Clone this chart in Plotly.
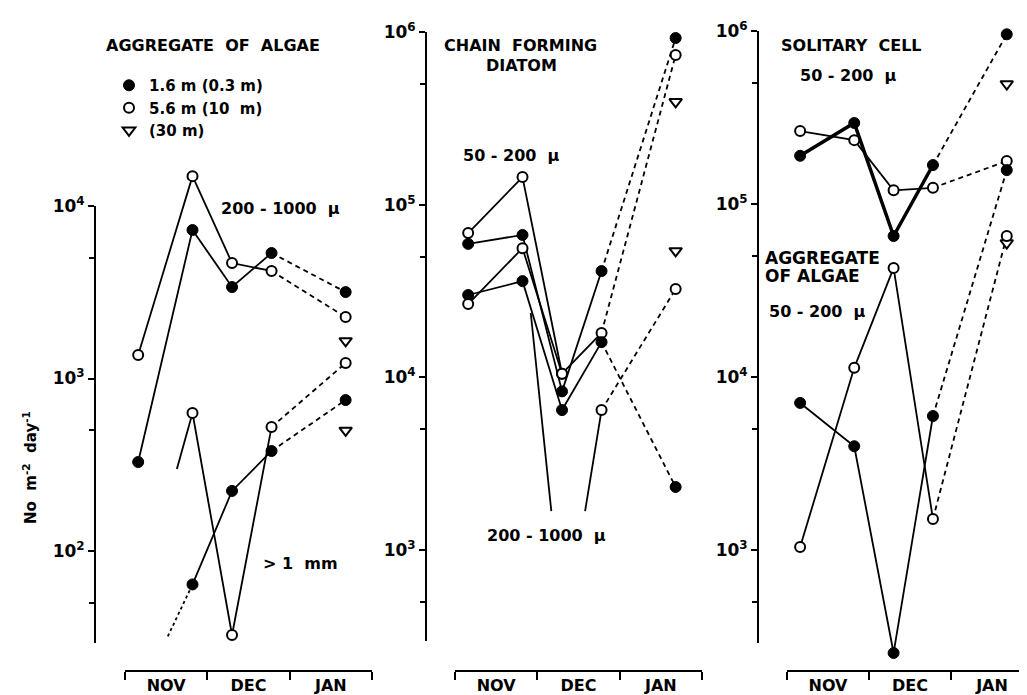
import plotly.graph_objects as go

W, H = 1027, 695

# ---------------- data ----------------
sample_x = [0.16, 0.82, 1.30, 1.78, 2.68]          # sampling dates (month units: NOV=0-1, DEC=1-2, JAN=2-3)
month_labels = ["NOV", "DEC", "JAN"]
month_label_pos = [0.5, 1.5, 2.5]
month_bounds = [0, 1, 2, 3]

# Panel 1 : aggregate of algae
p1_mid_filled = [328, 7260, 3390, 5340, 3170]        # 200-1000 u, 1.6 m
p1_mid_open = [1370, 14900, 4670, 4200, 2270]        # 200-1000 u, 5.6 m
p1_mid_tri = [None, None, None, None, 1650]          # 200-1000 u, 30 m
p1_big_filled = [None, 64, 223, 380, 750]            # >1 mm, 1.6 m
p1_big_open = [None, 631, 32.6, 523, 1230]           # >1 mm, 5.6 m
p1_big_tri = [None, None, None, None, 500]           # >1 mm, 30 m
p1_big_filled_stub = (0.52, 32)                      # dotted lead-in to first point
p1_big_open_stub = (0.63, 299)                       # solid lead-in to first point

# Panel 2 : chain forming diatom
p2_small_filled = [59300, 66800, 8300, 41300, 923000]
p2_small_open = [68500, 144500, 10500, 18100, 736000]
p2_small_tri = [None, None, None, None, 394000]
p2_mid_filled = [30000, 36100, 6470, 16000, 2320]
p2_mid_open = [26600, 56000, 10500, 6470, 32500]
p2_mid_tri = [None, None, None, None, 54000]
p2_lead_a = ([0.92, 1.17], [23600, 1680])            # truncated line toward label
p2_lead_b = ([1.58, 1.78], [1680, 6470])

# Panel 3 : solitary cell / aggregate of algae (50-200 u)
p3_sol_filled = [190000, 294000, 65300, 168000, 957000]
p3_sol_open = [264000, 234000, 120000, 124000, 177000]
p3_sol_tri = [None, None, None, None, 494000]
p3_agg_filled = [7080, 3980, 254, 5950, 157000]
p3_agg_open = [1040, 11300, 42700, 1510, 65300]
p3_agg_tri = [None, None, None, None, 59500]

S, D = "solid", "dash"
std_styles = [S, S, S, D]

# ---------------- layout geometry (pixels) ----------------
panels = [
    dict(xl=117, xr=364, yax=87, ytop=198, ybot=635, top=4, per_dec=172.5, majors=[2, 3, 4]),
    dict(xl=447, xr=694, yax=418, ytop=24, ybot=633, top=6, per_dec=172.7, majors=[3, 4, 5, 6]),
    dict(xl=779, xr=1025, yax=750, ytop=23, ybot=635, top=6, per_dec=173.0, majors=[3, 4, 5, 6]),
]
XAXIS_Y = 663
FONT = "DejaVu Sans"
DASH = {"solid": "solid", "dash": "5px,4px", "dot": "3px,3px"}

fig = go.Figure()
layout = dict(
    width=W, height=H, margin=dict(l=0, r=0, t=0, b=0),
    paper_bgcolor="white", plot_bgcolor="rgba(0,0,0,0)",
    template="none", showlegend=True,
    font=dict(family=FONT, color="black", size=16),
)

for i, p in enumerate(panels):
    dn = 2 * i + 1
    vn = 2 * i + 2
    data_lo = p["top"] - (H - p["ytop"]) / p["per_dec"]
    data_hi = p["top"] + p["ytop"] / p["per_dec"]
    disp_lo = p["top"] - (p["ybot"] - p["ytop"]) / p["per_dec"]
    xdom = [p["xl"] / W, p["xr"] / W]
    sx = "" if dn == 1 else str(dn)
    layout["xaxis" + sx] = dict(domain=xdom, range=[0, 3], visible=False, anchor="y" + sx, fixedrange=True)
    layout["yaxis" + sx] = dict(domain=[0, 1], type="log", range=[data_lo, data_hi], visible=False,
                                anchor="x" + sx, fixedrange=True)
    sv = str(vn)
    layout["xaxis" + sv] = dict(
        domain=xdom, range=[0, 3], anchor="free", position=1 - XAXIS_Y / H,
        showline=True, linewidth=2, linecolor="black", showgrid=False, zeroline=False,
        tickmode="array", tickvals=month_label_pos, ticktext=month_labels,
        ticks="outside", ticklen=0, tickcolor="rgba(0,0,0,0)", ticklabelstandoff=0,
        tickfont=dict(family=FONT, size=16, color="black", weight="bold"),
        minor=dict(tickmode="array", tickvals=month_bounds, ticks="outside", ticklen=8,
                   tickwidth=2, tickcolor="black", showgrid=False),
        fixedrange=True,
    )
    layout["yaxis" + sv] = dict(
        domain=[1 - p["ybot"] / H, 1 - p["ytop"] / H], type="log", range=[disp_lo, p["top"]],
        anchor="free", position=p["yax"] / W, side="left",
        showline=True, linewidth=2, linecolor="black", showgrid=False, zeroline=False,
        tickmode="array", tickvals=[10 ** k for k in p["majors"]],
        ticktext=["10<sup>%d</sup>" % k for k in p["majors"]],
        ticks="outside", ticklen=6, tickwidth=2, tickcolor="black",
        tickfont=dict(family=FONT, size=17, color="black", weight="bold"),
        minor=dict(tickmode="array", tickvals=[5 * 10 ** (k - 1) for k in p["majors"]],
                   ticks="outside", ticklen=5, tickwidth=2, tickcolor="black", showgrid=False),
        fixedrange=True,
    )
    # dummy trace so the display axes form a subplot
    fig.add_trace(go.Scatter(x=[None], y=[None], xaxis="x" + sv, yaxis="y" + sv,
                             showlegend=False, hoverinfo="skip"))

marker_defs = {
    "filled": dict(symbol="circle", size=11, color="black", line=dict(color="black", width=1)),
    "open": dict(symbol="circle", size=10, color="white", line=dict(color="black", width=2)),
    "tri": dict(symbol="triangle-down", size=11, color="white", line=dict(color="black", width=2)),
}

marker_traces = []


def add_lines(ax, vals, styles, width=1.8):
    xa = "x" if ax == 1 else "x%d" % ax
    ya = "y" if ax == 1 else "y%d" % ax
    runs, cur = [], None
    for k in range(len(vals) - 1):
        st = styles[k] if k < len(styles) else None
        if st is None or vals[k] is None or vals[k + 1] is None:
            cur = None
            continue
        if cur is not None and cur["style"] == st:
            cur["x"].append(sample_x[k + 1]); cur["y"].append(vals[k + 1])
        else:
            cur = dict(style=st, x=[sample_x[k], sample_x[k + 1]], y=[vals[k], vals[k + 1]])
            runs.append(cur)
    for r in runs:
        fig.add_trace(go.Scatter(x=r["x"], y=r["y"], mode="lines",
                                 line=dict(color="black", width=width, dash=DASH[r["style"]]),
                                 xaxis=xa, yaxis=ya, showlegend=False, hoverinfo="skip"))


def add_stub(ax, xs, ys, style, width=1.8):
    xa = "x" if ax == 1 else "x%d" % ax
    ya = "y" if ax == 1 else "y%d" % ax
    fig.add_trace(go.Scatter(x=xs, y=ys, mode="lines",
                             line=dict(color="black", width=width, dash=DASH[style]),
                             xaxis=xa, yaxis=ya, showlegend=False, hoverinfo="skip"))


def add_markers(ax, vals, kind, name=None, legend=False, size=None):
    xa = "x" if ax == 1 else "x%d" % ax
    ya = "y" if ax == 1 else "y%d" % ax
    xs = [x for x, v in zip(sample_x, vals) if v is not None]
    ys = [v for v in vals if v is not None]
    m = dict(marker_defs[kind])
    if size:
        m["size"] = size
    marker_traces.append(go.Scatter(x=xs, y=ys, mode="markers", marker=m, xaxis=xa, yaxis=ya,
                                    name=name, showlegend=legend, hoverinfo="skip"))


# panel 1
add_lines(1, p1_mid_filled, std_styles)
add_lines(1, p1_mid_open, std_styles)
add_lines(1, p1_big_filled, [None, S, S, D])
add_lines(1, p1_big_open, [None, S, S, D])
add_stub(1, [p1_big_filled_stub[0], sample_x[1]], [p1_big_filled_stub[1], p1_big_filled[1]], "dot")
add_stub(1, [p1_big_open_stub[0], sample_x[1]], [p1_big_open_stub[1], p1_big_open[1]], "solid")
add_markers(1, p1_mid_filled, "filled", "1.6 m (0.3 m)", True)
add_markers(1, p1_mid_open, "open", "5.6 m (10  m)", True)
add_markers(1, p1_mid_tri, "tri", "(30 m)", True)
add_markers(1, p1_big_filled, "filled")
add_markers(1, p1_big_open, "open")
add_markers(1, p1_big_tri, "tri")

# panel 2
add_lines(3, p2_small_filled, std_styles)
add_lines(3, p2_small_open, std_styles)
add_lines(3, p2_mid_filled, std_styles)
add_lines(3, p2_mid_open, [S, S, None, D])
add_stub(3, p2_lead_a[0], p2_lead_a[1], "solid")
add_stub(3, p2_lead_b[0], p2_lead_b[1], "solid")
for vals, kind in [(p2_small_filled, "filled"), (p2_small_open, "open"), (p2_small_tri, "tri"),
                   (p2_mid_filled, "filled"), (p2_mid_open, "open"), (p2_mid_tri, "tri")]:
    add_markers(3, vals, kind)

# panel 3
add_lines(5, p3_sol_open, std_styles, width=1.8)
add_lines(5, p3_sol_filled, std_styles[:3], width=3.5)
add_lines(5, p3_sol_filled, [None, None, None, D], width=1.8)
add_lines(5, p3_agg_filled, std_styles)
add_lines(5, p3_agg_open, std_styles)
for vals, kind in [(p3_sol_filled, "filled"), (p3_sol_open, "open"), (p3_sol_tri, "tri"),
                   (p3_agg_tri, "tri"), (p3_agg_filled, "filled"), (p3_agg_open, "open")]:
    add_markers(5, vals, kind)

for t in marker_traces:
    fig.add_trace(t)


def ann(text, x, y, size=16, xanchor="center", weight="bold", align="center", angle=0):
    return dict(text=text, x=x / W, y=1 - y / H, xref="paper", yref="paper", showarrow=False,
                xanchor=xanchor, yanchor="middle", align=align, textangle=angle,
                font=dict(family=FONT, size=size, color="black", weight=weight))


annotations = [
    ann("AGGREGATE  OF  ALGAE", 205, 38),
    ann("200 - 1000  \u03bc", 272, 200),
    ann("> 1  mm", 292, 555),
    ann("CHAIN  FORMING", 512, 37),
    ann("DIATOM", 513, 58),
    ann("50 - 200  \u03bc", 503, 147),
    ann("200 - 1000  \u03bc", 538, 527),
    ann("SOLITARY  CELL", 843, 38),
    ann("50 - 200  \u03bc", 840, 67),
    ann("AGGREGATE", 755, 250, size=17, xanchor="left"),
    ann("OF ALGAE", 755, 268, size=17, xanchor="left"),
    ann("50 - 200  \u03bc", 809, 303),
    ann("No  m<sup>-2</sup>  day<sup>-1</sup>", 22, 460, size=15, angle=-90),
]

layout["annotations"] = annotations
layout["legend"] = dict(x=101 / W, y=1 - 61 / H, xanchor="left", yanchor="top",
                        bgcolor="rgba(0,0,0,0)", borderwidth=0, itemwidth=30,
                        font=dict(family=FONT, size=15, color="black", weight="bold"),
                        traceorder="normal", itemclick=False, itemdoubleclick=False)
fig.update_layout(**layout)

fig.write_html("out.html")
